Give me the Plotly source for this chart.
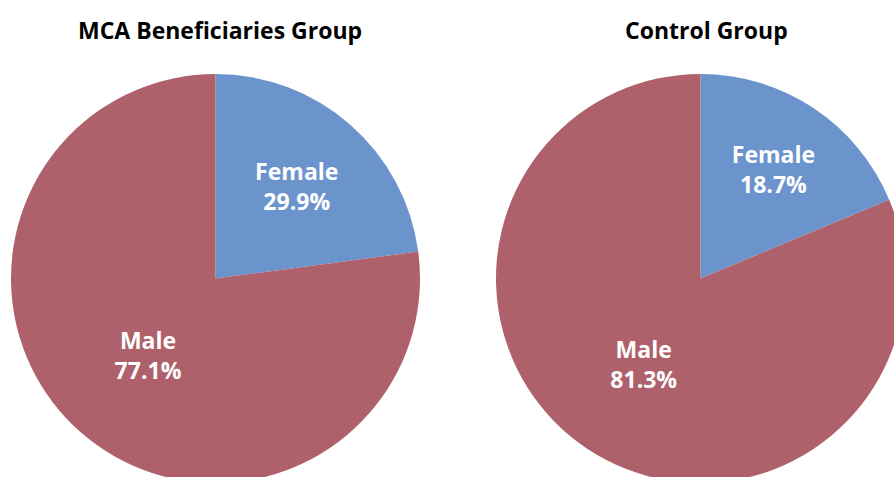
import plotly.graph_objects as go

categories = ["Female", "Male"]
mca_values = [22.9, 77.1]
mca_labels = ["29.9%", "77.1%"]  # as printed on the original chart
control_values = [18.7, 81.3]
control_labels = ["18.7%", "81.3%"]
titles = ["MCA Beneficiaries Group", "Control Group"]
colors = ["#6C94CC", "#AF616B"]

W, H = 910, 490
FONT = "Open Sans"

def dom_x(a, b):
    return [a / W, b / W]

def dom_y(top, bottom):
    return [(H - bottom) / H, (H - top) / H]

fig = go.Figure()
for vals, labs, xd in [(mca_values, mca_labels, dom_x(11, 420)),
                       (control_values, control_labels, dom_x(496, 905))]:
    fig.add_trace(go.Pie(
        labels=categories, values=vals, text=labs,
        texttemplate="%{label}<br>%{text}",
        textposition="inside", insidetextorientation="horizontal",
        textfont=dict(family=FONT, size=23, color="white", weight="bold"),
        marker=dict(colors=colors, line=dict(width=0)),
        sort=False, direction="clockwise", rotation=0,
        domain=dict(x=xd, y=dom_y(74, 483)),
        hoverinfo="label+percent", showlegend=False,
    ))

for t, cx in zip(titles, [220, 706]):
    fig.add_annotation(text="<b>%s</b>" % t, x=cx / W, y=(H - 30) / H,
                       xref="paper", yref="paper", showarrow=False,
                       xanchor="center", yanchor="middle",
                       font=dict(family=FONT, size=23, color="black"))

fig.update_layout(width=W, height=H, margin=dict(l=0, r=0, t=0, b=0),
                  paper_bgcolor="white", plot_bgcolor="white")

fig.write_html("out.html", config={"displayModeBar": False},
               post_script="document.body.style.margin='0';document.body.style.overflow='hidden';document.documentElement.style.overflow='hidden';")
